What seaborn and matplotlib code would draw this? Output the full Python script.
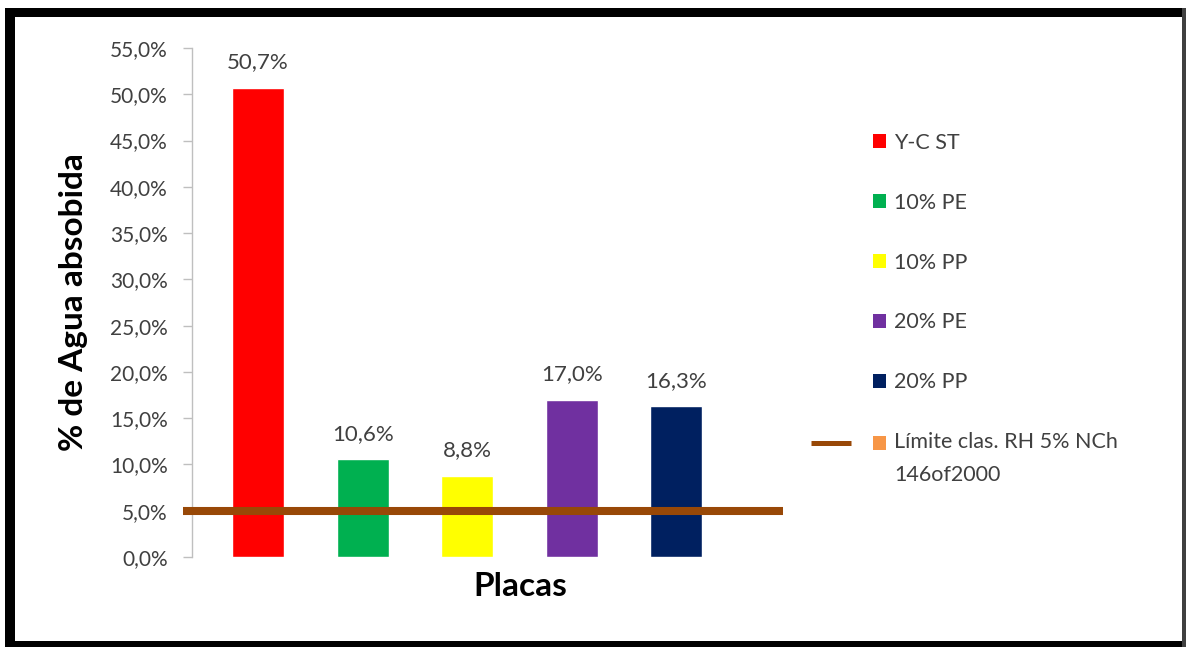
import matplotlib
matplotlib.use("Agg")
import matplotlib.pyplot as plt
from matplotlib.patches import Patch, Rectangle
from matplotlib.lines import Line2D
from matplotlib.legend_handler import HandlerPatch
from matplotlib.ticker import FuncFormatter, MultipleLocator
import seaborn as sns
import pandas as pd

# Water absorption per board type
placas = ["Y-C ST", "10% PE", "10% PP", "20% PE", "20% PP"]
agua_absorbida = [0.507, 0.106, 0.088, 0.170, 0.163]
colores = ["#FF0000", "#00B050", "#FFFF00", "#7030A0", "#002060"]

# Classification limit (RH 5%, NCh 146of2000)
limite = 0.05
limite_label = "Límite clas. RH 5% NCh\n146of2000"
limite_line_color = "#984807"
limite_legend_color = "#F79646"

sns.set_theme(style="white")
plt.rcParams["font.family"] = ["Lato", "DejaVu Sans"]

W, H = 1187, 647
fig = plt.figure(figsize=(W / 100, H / 100), dpi=100)
fig.patch.set_facecolor("white")


def px(x0, y0, x1, y1):
    """Figure-fraction rectangle from pixel box (top-left origin)."""
    return [x0 / W, 1 - y1 / H, (x1 - x0) / W, (y1 - y0) / H]


ax = fig.add_axes(px(192, 48, 783, 557))

df = pd.DataFrame({"placa": placas, "agua": agua_absorbida})
sns.barplot(data=df, x="placa", y="agua", hue="placa", palette=colores,
            width=0.5, saturation=1, legend=False, ax=ax)

def pct(v, _=None):
    return f"{v * 100:.1f}%".replace(".", ",")

for cont in ax.containers:
    ax.bar_label(cont, labels=[pct(b.get_height()) for b in cont],
                 padding=11, fontsize=16, color="#404040")

ax.set_ylim(0, 0.55)
ax.yaxis.set_major_locator(MultipleLocator(0.05))
ax.yaxis.set_major_formatter(FuncFormatter(pct))
ax.set_xlim(-0.632, 5.02)

ax.plot([-0.718, 5.02], [limite, limite], color=limite_line_color,
        lw=5.8, solid_capstyle="butt", clip_on=False, zorder=5)

for s in ["top", "right", "bottom"]:
    ax.spines[s].set_visible(False)
ax.spines["left"].set_color("#BFBFBF")
ax.spines["left"].set_linewidth(1)
ax.tick_params(axis="y", which="major", left=True, length=6.5, width=1,
               color="#BFBFBF", labelsize=15, labelcolor="#404040", pad=11)
ax.set_xticks([])
ax.set_xlabel("Placas", fontsize=24, fontweight="bold", color="black")
ax.xaxis.set_label_coords((520 - 192) / 591, -0.030)
ax.set_ylabel("% de Agua absobida", fontsize=24, fontweight="bold", color="black")
ax.yaxis.set_label_coords(-0.176, 0.501)


def top_line_square(legend, orig_handle, xdescent, ydescent, width, height,
                    fontsize):
    # keep the swatch next to the first line of a two-line label
    return Rectangle((-xdescent, -ydescent + 11.5), width, height)


handles = [Patch(facecolor=c, edgecolor="none") for c in colores]
limite_handle = Patch(facecolor=limite_legend_color, edgecolor="none")
handles.append(limite_handle)
labels = placas + [limite_label]
leg = fig.legend(handles, labels, loc="upper left",
                 bbox_to_anchor=(873 / W, 1 - 133 / H), frameon=False,
                 fontsize=15.5, handlelength=0.62, handleheight=0.62,
                 handletextpad=0.35, labelspacing=1.85, borderpad=0,
                 borderaxespad=0,
                 handler_map={limite_handle: HandlerPatch(patch_func=top_line_square)})
for t in leg.get_texts():
    t.set_color("#404040")
    t.set_linespacing(1.8)

fig.add_artist(Line2D([811 / W, 851 / W], [1 - 443 / H] * 2,
                      transform=fig.transFigure, color=limite_line_color,
                      lw=3.6, solid_capstyle="butt"))

# black frame around the chart
for box, col in [((5, 8, 15, 647), "black"), ((5, 8, 1186, 17), "black"),
                 ((5, 641, 1186, 647), "black"), ((1182, 8, 1186, 647), "#404040")]:
    fig.add_artist(Rectangle(px(*box)[:2], px(*box)[2], px(*box)[3],
                             transform=fig.transFigure, facecolor=col,
                             edgecolor="none"))

fig.savefig("out.png", dpi=100)
